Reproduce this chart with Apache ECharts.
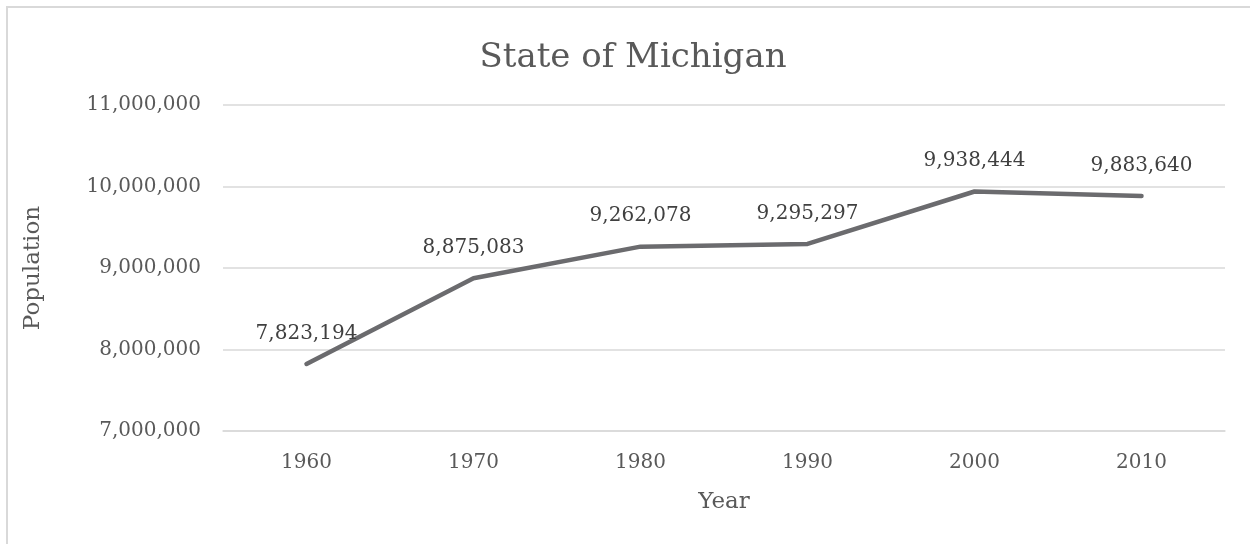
<!DOCTYPE html>
<html>
<head>
<meta charset="utf-8">
<script src="https://cdn.jsdelivr.net/npm/echarts@6/dist/echarts.min.js"></script>
<style>
  html, body { margin: 0; padding: 0; background: #fff; }
  #chart { width: 1250px; height: 544px; }
</style>
</head>
<body>
<div id="chart"></div>
<script>
// values
var years = ['1960', '1970', '1980', '1990', '2000', '2010'];
var population = [7823194, 8875083, 9262078, 9295297, 9938444, 9883640];
var yTicks = [7000000, 8000000, 9000000, 10000000, 11000000];

var font = 'DejaVu Serif';
var textColor = '#595959';

function fmt(v) {
  return String(v).replace(/\B(?=(\d{3})+(?!\d))/g, ',');
}

var chart = echarts.init(document.getElementById('chart'));
var option = {
  backgroundColor: '#fff',
  animation: false,
  textStyle: { fontFamily: font },
  title: {
    text: 'State of Michigan',
    left: 628,
    textAlign: 'center',
    top: 36,
    textStyle: { fontFamily: font, fontSize: 34, fontWeight: 'normal', color: textColor }
  },
  graphic: [{
    type: 'rect',
    shape: { x: 7, y: 7, width: 1300, height: 600 },
    style: { fill: null, stroke: '#d9d9d9', lineWidth: 2 },
    silent: true
  }],
  grid: { left: 223, right: 25, top: 105, bottom: 113 },
  xAxis: {
    type: 'category',
    data: years,
    boundaryGap: true,
    name: 'Year',
    nameLocation: 'middle',
    nameGap: 60,
    nameTextStyle: { fontFamily: font, fontSize: 23, color: textColor },
    axisLine: { lineStyle: { color: '#d9d9d9', width: 1.5 } },
    axisTick: { show: false },
    axisLabel: { fontFamily: font, fontSize: 20, color: textColor, margin: 22 }
  },
  yAxis: {
    type: 'value',
    min: yTicks[0],
    max: yTicks[yTicks.length - 1],
    interval: 1000000,
    name: 'Population',
    nameLocation: 'middle',
    nameGap: 178,
    nameTextStyle: { fontFamily: font, fontSize: 23, color: textColor },
    axisLine: { show: false },
    axisTick: { show: false },
    splitLine: { lineStyle: { color: '#d9d9d9', width: 1.5 } },
    axisLabel: { fontFamily: font, fontSize: 20, color: textColor, margin: 22, formatter: fmt }
  },
  series: [{
    type: 'line',
    data: population,
    symbol: 'circle',
    symbolSize: 1,
    showSymbol: true,
    itemStyle: { color: 'rgba(0,0,0,0)' },
    lineStyle: { color: '#6b6b6e', width: 4.5, cap: 'round', join: 'round' },
    label: {
      show: true,
      position: 'top',
      distance: 20,
      fontFamily: font,
      fontSize: 20,
      color: '#404040',
      formatter: function (p) { return fmt(p.value); }
    }
  }]
};
chart.setOption(option);
</script>
</body>
</html>
